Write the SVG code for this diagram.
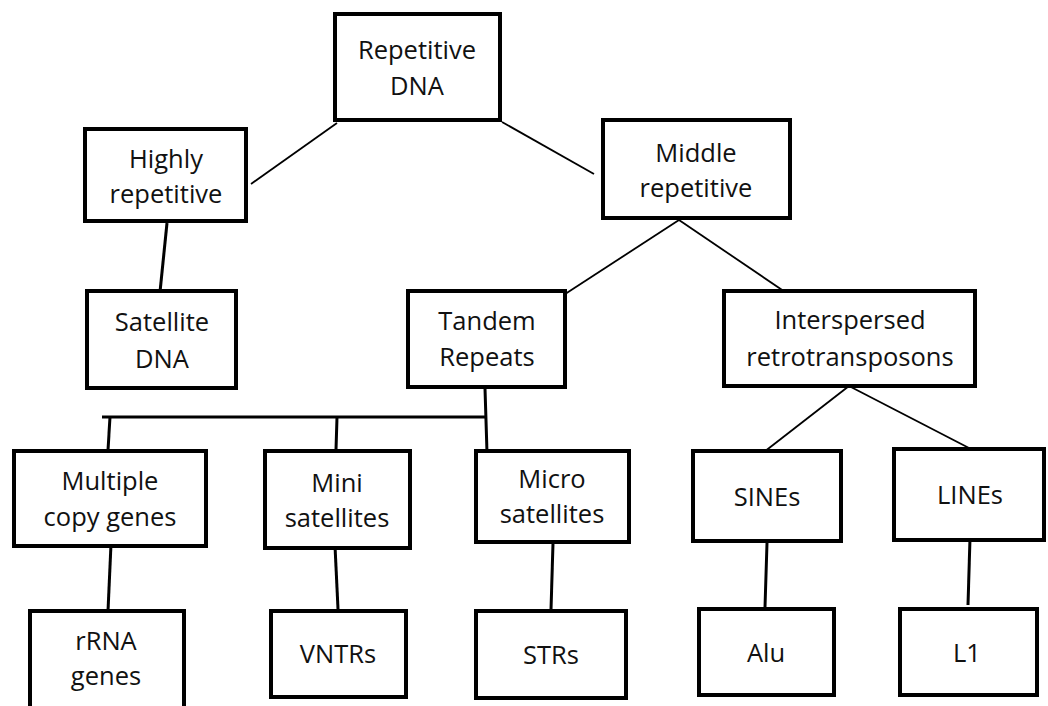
<svg xmlns="http://www.w3.org/2000/svg" width="1048" height="706" viewBox="0 0 1048 706">
<style>
.box{fill:#fff;stroke:#000;stroke-width:4}
.t{font-family:"Open Sans","Liberation Sans",sans-serif;font-size:25.5px;fill:#111;text-anchor:middle}
.thin{stroke:#000;stroke-width:1.8;fill:none}
.thick{stroke:#000;stroke-width:3;fill:none}
</style>
<rect width="1048" height="706" fill="#fff"/>
<g id="connectors">
<line class="thin" x1="337" y1="123" x2="251" y2="184"/>
<line class="thin" x1="502" y1="122" x2="594" y2="174"/>
<line class="thick" x1="167" y1="223" x2="160" y2="292"/>
<line class="thin" x1="679" y1="220" x2="559" y2="298"/>
<line class="thin" x1="679" y1="220" x2="794" y2="298"/>
<line class="thick" x1="485" y1="388" x2="487" y2="453"/>
<line class="thick" x1="102" y1="417" x2="486" y2="417"/>
<line class="thick" x1="110" y1="417" x2="108" y2="450"/>
<line class="thick" x1="337" y1="417" x2="336" y2="450"/>
<line class="thin" x1="849" y1="386" x2="764" y2="452"/>
<line class="thin" x1="849" y1="386" x2="969" y2="448"/>
<line class="thick" x1="111" y1="544" x2="108" y2="611"/>
<line class="thick" x1="335" y1="546" x2="338" y2="609"/>
<line class="thick" x1="553" y1="543" x2="551" y2="610"/>
<line class="thick" x1="767" y1="543" x2="765" y2="607"/>
<line class="thick" x1="970" y1="538" x2="968" y2="605"/>
</g>
<g id="repetitive-dna"><rect class="box" x="335" y="14" width="165" height="106"/><text class="t" x="417" y="59">Repetitive</text><text class="t" x="417" y="95">DNA</text></g>
<g id="highly-repetitive"><rect class="box" x="85" y="129" width="161" height="92"/><text class="t" x="166" y="168">Highly</text><text class="t" x="166" y="203">repetitive</text></g>
<g id="middle-repetitive"><rect class="box" x="603" y="120" width="187" height="98"/><text class="t" x="696" y="162">Middle</text><text class="t" x="696" y="197">repetitive</text></g>
<g id="satellite-dna"><rect class="box" x="87" y="291" width="149" height="97"/><text class="t" x="162" y="331">Satellite</text><text class="t" x="162" y="368">DNA</text></g>
<g id="tandem-repeats"><rect class="box" x="408" y="291" width="157" height="96"/><text class="t" x="487" y="330">Tandem</text><text class="t" x="487" y="366">Repeats</text></g>
<g id="interspersed"><rect class="box" x="724" y="291" width="251" height="95"/><text class="t" x="850" y="329">Interspersed</text><text class="t" x="850" y="366">retrotransposons</text></g>
<g id="multiple-copy-genes"><rect class="box" x="14" y="451" width="192" height="95"/><text class="t" x="110" y="490">Multiple</text><text class="t" x="110" y="526">copy genes</text></g>
<g id="mini-satellites"><rect class="box" x="265" y="451" width="145" height="97"/><text class="t" x="337" y="492">Mini</text><text class="t" x="337" y="527">satellites</text></g>
<g id="micro-satellites"><rect class="box" x="476" y="451" width="153" height="91"/><text class="t" x="552" y="488">Micro</text><text class="t" x="552" y="523">satellites</text></g>
<g id="sines"><rect class="box" x="693" y="451" width="148" height="90"/><text class="t" x="767" y="506">SINEs</text></g>
<g id="lines"><rect class="box" x="894" y="449" width="150" height="91"/><text class="t" x="970" y="504">LINEs</text></g>
<g id="rrna-genes"><rect class="box" x="30" y="611" width="154" height="104"/><text class="t" x="106" y="650">rRNA</text><text class="t" x="106" y="685">genes</text></g>
<g id="vntrs"><rect class="box" x="271" y="611" width="135" height="86"/><text class="t" x="338" y="663">VNTRs</text></g>
<g id="strs"><rect class="box" x="476" y="611" width="150" height="87"/><text class="t" x="551" y="664">STRs</text></g>
<g id="alu"><rect class="box" x="699" y="609" width="135" height="86"/><text class="t" x="766" y="662">Alu</text></g>
<g id="l1"><rect class="box" x="900" y="609" width="137" height="86"/><text class="t" x="967" y="662">L1</text></g>
</svg>
